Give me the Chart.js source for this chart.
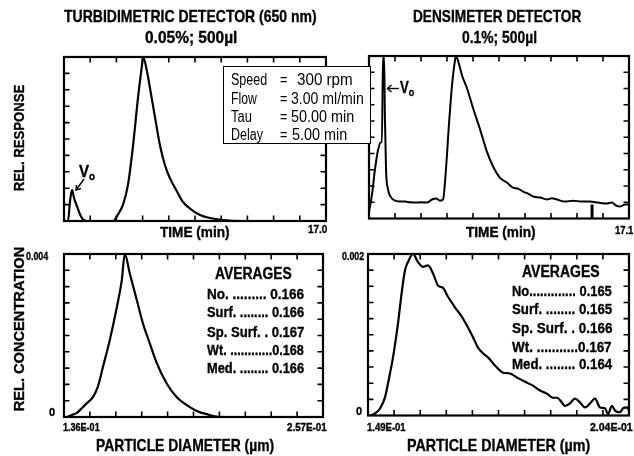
<!DOCTYPE html>
<html><head><meta charset="utf-8">
<script src="https://cdn.jsdelivr.net/npm/chart.js@4.4.1/dist/chart.umd.min.js"></script>
<style>
html,body{margin:0;padding:0;background:#fff;}
#wrap{position:relative;width:634px;height:456px;overflow:hidden;background:#fff;}
canvas{position:absolute;left:0;top:0;z-index:1;}
.t{position:absolute;white-space:nowrap;color:#000;font-family:"Liberation Sans Narrow","Liberation Sans",Arial,sans-serif;font-weight:bold;line-height:1;}
.hv{-webkit-text-stroke:0.35px #000;}
#info{position:absolute;left:223px;top:66px;width:146px;height:76px;border:1.5px solid #000;background:#fff;z-index:3;}
svg{position:absolute;left:0;top:0;z-index:2;}
</style></head>
<body><div id="wrap">
<canvas id="cTL" width="634" height="456"></canvas>
<canvas id="cTR" width="634" height="456"></canvas>
<canvas id="cBL" width="634" height="456"></canvas>
<canvas id="cBR" width="634" height="456"></canvas>
<svg width="634" height="456">
<polyline points="84,179 76,190" stroke="#000" stroke-width="1.4" fill="none"/>
<polyline points="76.5,185 76,190 81,188.5" stroke="#000" stroke-width="1.4" fill="none"/>
<polyline points="399,88.5 387.5,88.5" stroke="#000" stroke-width="1.4" fill="none"/>
<polyline points="391.5,85 387.5,88.5 391.5,92" stroke="#000" stroke-width="1.4" fill="none"/>
</svg>
<div id="info"></div>
</div>
<script>
// ---------- DATA ----------
// Turbidimetric detector fractogram (time in min, relative response)
const turbTime = [0, 0.26, 0.39, 0.52, 0.65, 0.84, 1.04, 1.23, 1.49, 3.18, 3.50, 3.83, 4.15, 4.48, 4.80, 5.06, 5.13, 5.39, 5.58, 5.91, 6.23, 6.55, 6.88, 7.33, 7.72, 8.31, 8.83, 9.47, 10.32, 11.42, 17.0];
const turbResp = [0, 0, 0.12, 0.19, 0.14, 0.09, 0.04, 0.01, 0, 0, 0.04, 0.10, 0.22, 0.46, 0.75, 0.95, 1.0, 0.91, 0.81, 0.63, 0.46, 0.34, 0.26, 0.18, 0.116, 0.067, 0.037, 0.018, 0.006, 0, 0];
// Densimeter detector fractogram
const densTime = [0.00, 0.20, 0.39, 0.59, 0.79, 0.85, 0.92, 0.99, 1.05, 1.12, 1.25, 1.45, 1.71, 2.04, 2.37, 2.70, 3.03, 3.42, 3.81, 4.14, 4.41, 4.67, 4.87, 5.06, 5.26, 5.46, 5.66, 5.72, 5.92, 6.12, 6.45, 6.84, 7.30, 7.76, 8.16, 8.62, 9.08, 9.47, 9.80, 10.13, 10.46, 10.79, 11.25, 11.71, 12.03, 12.36, 12.89, 13.42, 14.01, 14.53, 15.06, 15.65, 15.98, 16.24, 16.51, 16.84, 17.1];
const densResp = [0.04, 0.15, 0.30, 0.42, 0.47, 0.47, 1.0, 1.0, 0.61, 0.30, 0.18, 0.13, 0.11, 0.105, 0.104, 0.10, 0.098, 0.10, 0.098, 0.117, 0.123, 0.11, 0.117, 0.30, 0.58, 0.82, 0.975, 1.0, 0.95, 0.88, 0.80, 0.68, 0.55, 0.41, 0.32, 0.25, 0.22, 0.19, 0.184, 0.166, 0.153, 0.135, 0.129, 0.117, 0.125, 0.117, 0.104, 0.11, 0.104, 0.104, 0.098, 0.092, 0.098, 0.08, 0.074, 0.086, 0.086];
const densMarkTime = [14.67, 14.67];
const densMarkResp = [0, 0.086];
// Particle size distributions (diameter in um, relative concentration)
const turbDiam = [0.1374, 0.1397, 0.1420, 0.1444, 0.1467, 0.1495, 0.1518, 0.1542, 0.1574, 0.1607, 0.1630, 0.1644, 0.1667, 0.1700, 0.1728, 0.1760, 0.1793, 0.1839, 0.1886, 0.1946, 0.1993, 0.2026, 0.2072, 0.2133, 0.257];
const turbConc = [0, 0.00005, 0.0001, 0.00022, 0.00034, 0.00049, 0.00074, 0.00123, 0.00189, 0.0027, 0.00336, 0.0040, 0.00353, 0.00287, 0.00231, 0.00182, 0.00133, 0.00083, 0.00049, 0.00025, 0.00012, 0.00007, 0.00001, 0, 0];
const densDiam = [0.14942, 0.15048, 0.15153, 0.15258, 0.15321, 0.15427, 0.15532, 0.15616, 0.15680, 0.15743, 0.15848, 0.15954, 0.16059, 0.16164, 0.16270, 0.16375, 0.16480, 0.16586, 0.16733, 0.16881, 0.17007, 0.17113, 0.17218, 0.17323, 0.17429, 0.17576, 0.17745, 0.17890, 0.18040, 0.18166, 0.18377, 0.18525, 0.18672, 0.18799, 0.18883, 0.18946, 0.19051, 0.19157, 0.19262, 0.19368, 0.19473, 0.19578, 0.19684, 0.19789, 0.19894, 0.19958, 0.20042, 0.20106, 0.20211, 0.20274, 0.20358, 0.204];
const densConc = [0, 0.000025, 0.000087, 0.000224, 0.000398, 0.00072, 0.00114, 0.00155, 0.0018, 0.0019, 0.002, 0.0019, 0.00184, 0.00186, 0.00176, 0.00161, 0.00158, 0.00147, 0.00134, 0.00122, 0.00109, 0.00097, 0.00084, 0.00077, 0.00072, 0.00062, 0.00053, 0.00052, 0.00047, 0.00043, 0.00037, 0.00031, 0.00027, 0.00022, 0.00022, 0.00019, 0.00012, 0.00015, 0.00021, 0.00016, 0.0001, 0.00015, 0.00021, 0.0001, 0.00009, 0.00002, 0.00012, 0.00006, 0.00004, 0.00009, 0.0001, 0.00006];
// Axis ranges and tick labels
const timeMax = [17.0, 17.1];
const timeTickLabels = ['17.0', '17.1'];
const diamMin = [0.136, 0.149];
const diamMax = [0.257, 0.204];
const diamTickLabels = [['1.36E-01', '2.57E-01'], ['1.49E-01', '2.04E-01']];
const concMax = [0.004, 0.002];
const concTickLabels = [['0', '0.004'], ['0', '0.002']];
// Annotation texts
const infoLabels = ['Speed', 'Flow', 'Tau', 'Delay'];
const infoValues = ['300 rpm', '3.00 ml/min', '50.00 min', '5.00 min'];
const avgRowsTurb = ['No. ......... 0.166', 'Surf. ........ 0.166', 'Sp. Surf. . 0.167', 'Wt. ............0.168', 'Med. ........ 0.166'];
const avgRowsDens = ['No............. 0.165', 'Surf. ........ 0.165', 'Sp. Surf. . 0.166', 'Wt. ...........0.167', 'Med. ........ 0.164'];

// ---------- CHARTS ----------
const W = 634, H = 456;
const pts = (xs, ys) => xs.map((x, i) => ({x: x, y: ys[i]}));
const framePlugin = {
  id: 'frame',
  afterDatasetsDraw(chart) {
    const {ctx, chartArea: a, scales: {x, y}} = chart;
    ctx.save();
    ctx.strokeStyle = '#000';
    ctx.lineWidth = 2.2;
    ctx.strokeRect(a.left, a.top, a.right - a.left, a.bottom - a.top);
    ctx.lineWidth = 1.6;
    const tl = 5.5;
    ctx.beginPath();
    for (let i = 1; i < 10; i++) {
      const px = x.getPixelForValue(x.min + i * (x.max - x.min) / 10);
      ctx.moveTo(px, a.top); ctx.lineTo(px, a.top + tl);
      ctx.moveTo(px, a.bottom); ctx.lineTo(px, a.bottom - tl);
      const py = y.getPixelForValue(y.min + i * (y.max - y.min) / 10);
      ctx.moveTo(a.left, py); ctx.lineTo(a.left + tl, py);
      ctx.moveTo(a.right, py); ctx.lineTo(a.right - tl, py);
    }
    ctx.stroke();
    ctx.restore();
  }
};
function mk(id, rect, xmin, xmax, ymax, datasets) {
  return new Chart(document.getElementById(id), {
    type: 'line',
    data: {datasets: datasets},
    options: {
      responsive: false, animation: false, devicePixelRatio: 1,
      layout: {padding: {left: rect[0], top: rect[1], right: W - rect[2], bottom: H - rect[3]}},
      plugins: {legend: {display: false}, tooltip: {enabled: false}, title: {display: false}},
      scales: {
        x: {type: 'linear', min: xmin, max: xmax, display: false},
        y: {type: 'linear', min: 0, max: ymax, display: false}
      },
      elements: {point: {radius: 0}, line: {borderWidth: 2.2, borderColor: '#000', cubicInterpolationMode: 'monotone'}}
    },
    plugins: [framePlugin]
  });
}
mk('cTL', [64, 57, 326, 221], 0, timeMax[0], 1, [
  {data: pts(turbTime, turbResp), borderColor: '#000', borderWidth: 2.2}
]);
mk('cTR', [369, 56, 629, 218.5], 0, timeMax[1], 1, [
  {data: pts(densTime, densResp), borderColor: '#000', borderWidth: 2},
  {data: pts(densMarkTime, densMarkResp), borderColor: '#000', borderWidth: 3}
]);
mk('cBL', [64, 254, 323, 417], diamMin[0], diamMax[0], concMax[0], [
  {data: pts(turbDiam, turbConc), borderColor: '#000', borderWidth: 2.2}
]);
mk('cBR', [368, 254, 629, 415.5], diamMin[1], diamMax[1], concMax[1], [
  {data: pts(densDiam, densConc), borderColor: '#000', borderWidth: 2.2}
]);

// ---------- TEXT ----------
const wrap = document.getElementById('wrap');
function place(html, o) {
  const s = document.createElement('span');
  s.className = 't' + (o.heavy ? ' hv' : '');
  s.innerHTML = html;
  s.style.fontSize = (o.size || 14) + 'px';
  if (o.weight) s.style.fontWeight = o.weight;
  s.style.zIndex = o.z || 2;
  wrap.appendChild(s);
  const w0 = s.offsetWidth, h0 = s.offsetHeight;
  const k = o.w ? o.w / w0 : 1;
  if (o.rot) {
    s.style.left = (o.x - w0 / 2) + 'px';
    s.style.top = (o.y - h0 / 2) + 'px';
    s.style.transformOrigin = 'center center';
    s.style.transform = 'rotate(-90deg) scaleX(' + k + ')';
    return;
  }
  let left;
  if (o.align === 'left') left = o.x;
  else if (o.align === 'right') left = o.x - w0 * k;
  else left = o.x - w0 * k / 2;
  s.style.left = left + 'px';
  s.style.top = (o.y - h0 / 2) + 'px';
  s.style.transformOrigin = 'left center';
  s.style.transform = 'scaleX(' + k + ')';
}
// titles
place('TURBIDIMETRIC DETECTOR (650 nm)', {x: 190, y: 16, w: 253, size: 17, heavy: true});
place('0.05%; 500µl', {x: 191, y: 37, w: 92, size: 17, heavy: true});
place('DENSIMETER DETECTOR', {x: 497, y: 16, w: 168, size: 17, heavy: true});
place('0.1%; 500µl', {x: 499, y: 37, w: 75, size: 17, heavy: true});
// axis titles
place('REL. RESPONSE', {x: 19, y: 138, w: 107, size: 14, rot: true, heavy: true});
place('REL. CONCENTRATION', {x: 19, y: 329, w: 165, size: 14, rot: true, heavy: true});
place('TIME (min)', {x: 195, y: 232, w: 70, size: 14, heavy: true});
place('TIME (min)', {x: 501, y: 232, w: 70, size: 14, heavy: true});
place('PARTICLE DIAMETER (µm)', {x: 185, y: 445, w: 178, size: 17, heavy: true});
place('PARTICLE DIAMETER (µm)', {x: 498, y: 445, w: 183, size: 17, heavy: true});
// tick labels
place(timeTickLabels[0], {x: 327, y: 229, w: 19, size: 11, align: 'right', heavy: true});
place(timeTickLabels[1], {x: 633, y: 230, w: 18, size: 11, align: 'right', heavy: true});
place(concTickLabels[0][1], {x: 48, y: 256, w: 22, size: 10.5, align: 'right', heavy: true});
place(concTickLabels[0][0], {x: 55, y: 412, size: 11, align: 'right', heavy: true});
place(concTickLabels[1][1], {x: 364, y: 256, w: 22, size: 10.5, align: 'right', heavy: true});
place(concTickLabels[1][0], {x: 362, y: 411, size: 11, align: 'right', heavy: true});
place(diamTickLabels[0][0], {x: 63, y: 427, w: 37, size: 10.5, align: 'left', heavy: true});
place(diamTickLabels[0][1], {x: 327, y: 427, w: 40, size: 10.5, align: 'right', heavy: true});
place(diamTickLabels[1][0], {x: 367, y: 427, w: 39, size: 10.5, align: 'left', heavy: true});
place(diamTickLabels[1][1], {x: 633, y: 427, w: 43, size: 10.5, align: 'right', heavy: true});
// V0 labels
place('V<span style="font-size:11px;position:relative;top:3px">o</span>', {x: 79, y: 171, w: 16, size: 17, align: 'left', heavy: true});
place('V<span style="font-size:11px;position:relative;top:3px">o</span>', {x: 400, y: 88, w: 14, size: 16, align: 'left', heavy: true});
// info box
const infoY = [80, 99, 117, 135];
const infoLW = [36, 26, 21, 32];
const infoVX = [297, 291, 291, 292];
const infoVW = [56, 73, 63, 55];
infoLabels.forEach((t, i) => {
  place(t, {x: 231, y: infoY[i], w: infoLW[i], size: 16, weight: 'normal', align: 'left', z: 4});
  place('=', {x: 280, y: infoY[i], w: 7, size: 16, weight: 'normal', align: 'left', z: 4});
  place(infoValues[i], {x: infoVX[i], y: infoY[i], w: infoVW[i], size: 16, weight: 'normal', align: 'left', z: 4});
});
// averages
place('AVERAGES', {x: 253, y: 274, w: 77, size: 16, heavy: true});
const avgY1 = [294, 312, 332, 350, 368];
avgRowsTurb.forEach((t, i) => place(t, {x: 207, y: avgY1[i], w: 97, size: 15.5, align: 'left', heavy: true}));
place('AVERAGES', {x: 561, y: 272, w: 78, size: 16, heavy: true});
const avgY2 = [291, 309, 328, 347, 364];
avgRowsDens.forEach((t, i) => place(t, {x: 512, y: avgY2[i], w: 100, size: 15.5, align: 'left', heavy: true}));
</script>
</body></html>
